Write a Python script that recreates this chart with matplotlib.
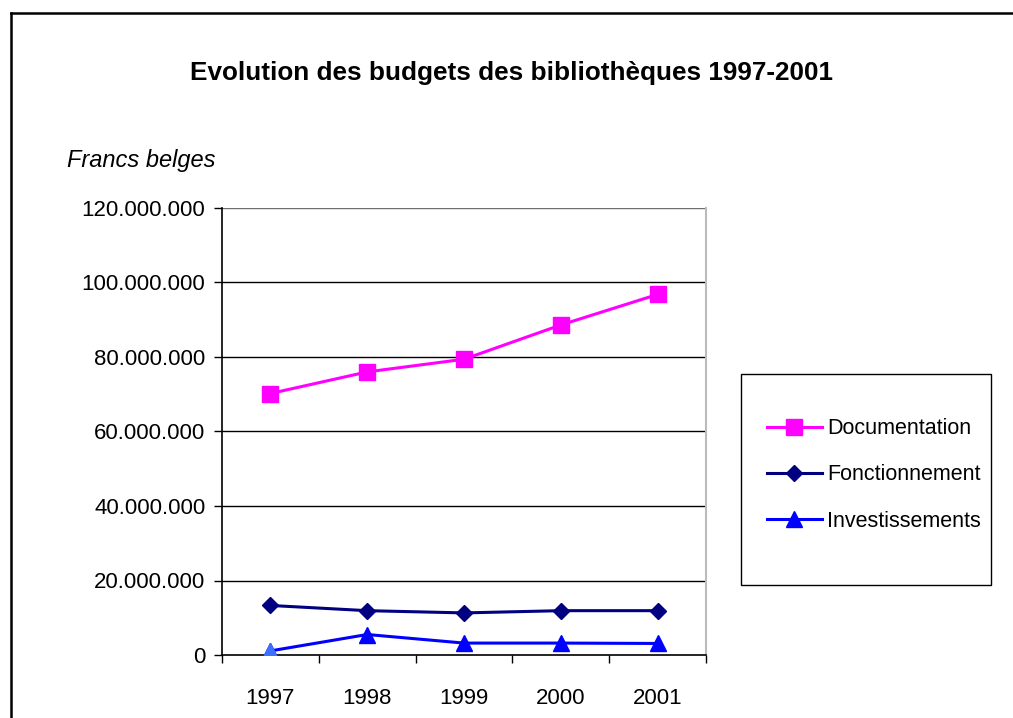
import matplotlib
matplotlib.use('Agg')
import matplotlib.pyplot as plt
from matplotlib.lines import Line2D
from matplotlib.patches import Rectangle
import numpy as np

plt.rcParams['font.family'] = ['Liberation Sans', 'DejaVu Sans']

# Data
years = ['1997', '1998', '1999', '2000', '2001']
documentation = [70200000, 76000000, 79400000, 88600000, 96800000]
fonctionnement = [13300000, 11900000, 11300000, 11900000, 11900000]
investissements = [1100000, 5500000, 3200000, 3200000, 3100000]
y_ticks = [0, 20000000, 40000000, 60000000, 80000000, 100000000, 120000000]

W, H = 1013, 718
fig = plt.figure(figsize=(W / 100, H / 100), dpi=100)
ax = fig.add_axes([222 / W, 1 - 655 / H, (706 - 222) / W, (655 - 208) / H])

x = np.arange(len(years))
ax.plot(x, documentation, color='#FF00FF', lw=2.2, marker='s', ms=11,
        label='Documentation', zorder=4)
ax.plot(x, fonctionnement, color='#000080', lw=2.2, marker='D', ms=8.5,
        label='Fonctionnement', zorder=4)
ax.plot(x, investissements, color='#0000FF', lw=2.2, marker='^', ms=11,
        label='Investissements', zorder=4)
# first triangle is drawn lighter in the original
ax.plot(x[:1], investissements[:1], ls='none', marker='^', ms=11,
        color='#3F6FFF', zorder=5)

ax.set_xlim(-0.5, len(years) - 0.5)
ax.set_ylim(0, 120000000)
ax.set_yticks(y_ticks)
ax.set_yticklabels([f'{v:,.0f}'.replace(',', '.') for v in y_ticks], fontsize=16)
ax.set_xticks(x)
ax.set_xticklabels(years, fontsize=16)
ax.set_xticks(np.arange(len(years) + 1) - 0.5, minor=True)
ax.tick_params(axis='x', which='major', length=0, pad=24)
ax.tick_params(axis='x', which='minor', length=6, width=1, direction='out')
ax.tick_params(axis='y', length=6, width=1, direction='out', pad=6)

for v in y_ticks[1:]:
    ax.axhline(v, color='black' if v < 120000000 else '#707070', lw=1, zorder=1)

ax.spines['top'].set_visible(False)
ax.spines['right'].set_color('#BBBBBB')
ax.spines['right'].set_linewidth(1.5)
ax.spines['left'].set_linewidth(1.2)
ax.spines['bottom'].set_linewidth(1.2)

fig.text(512 / W, 1 - 73 / H, 'Evolution des budgets des bibliothèques 1997-2001',
         ha='center', va='center', fontsize=18.8, fontweight='bold')
fig.text(67 / W, 1 - 160 / H, 'Francs belges', ha='left', va='center',
         fontsize=17, fontstyle='italic')

# legend box
fig.add_artist(Rectangle((741 / W, 1 - 585 / H), (991 - 741) / W, (585 - 374) / H,
                         transform=fig.transFigure, fill=False, edgecolor='black', lw=1))
fig.legend(loc='center left', bbox_to_anchor=(767 / W, 1 - 475 / H),
           bbox_transform=fig.transFigure, frameon=False, fontsize=15.5,
           handlelength=2.55, handletextpad=0.25, labelspacing=1.17,
           borderpad=0, borderaxespad=0)

# outer frame (right and bottom edges cut off)
fig.add_artist(Line2D([11 / W, 1], [1 - 13 / H, 1 - 13 / H], transform=fig.transFigure,
                      color='black', lw=1.8))
fig.add_artist(Line2D([11 / W, 11 / W], [0, 1 - 13 / H], transform=fig.transFigure,
                      color='black', lw=1.8))

fig.savefig('out.png', dpi=100)
